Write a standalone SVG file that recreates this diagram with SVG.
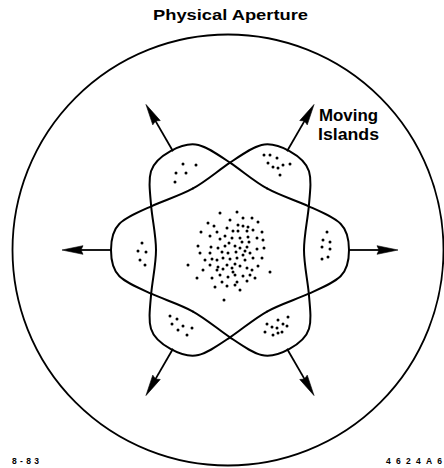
<svg xmlns="http://www.w3.org/2000/svg" xmlns:xlink="http://www.w3.org/1999/xlink" width="444" height="468" viewBox="0 0 444 468">
<style>
.ln{fill:none;stroke:#000;stroke-width:2;stroke-linejoin:round;stroke-linecap:round}
.ap{fill:none;stroke:#000;stroke-width:1.8}
.ar line{stroke:#000;stroke-width:1.8}
.ar polygon{fill:#000;stroke:#000;stroke-width:0.6;stroke-linejoin:round}
.d circle{fill:#000}
.t{font-family:"Liberation Sans",Arial,sans-serif;font-weight:bold;fill:#000}
</style>
<defs>
<path id="seg" class="ln" vector-effect="non-scaling-stroke" d="M37,-64.09 C49.99,-56.59 65.22,-51.84 78.81,-45.5 C107.81,-31.98 119,-28 119,0 C119,28 107.81,31.98 78.81,45.5 C65.22,51.84 49.99,56.59 37,64.09"/>
<g id="arrow-h" class="ar"><line x1="118" y1="0" x2="150" y2="0"/><polygon points="168,0 147,-4.3 149,0 147,4.3"/></g>
<g id="arrow-d" class="ar"><line x1="114" y1="0" x2="150" y2="0"/><polygon points="168,0 147,-4.3 149,0 147,4.3"/></g>
</defs>
<rect width="444" height="468" fill="#fff"/>
<g id="aperture"><circle class="ap" cx="228" cy="250" r="215.5"/></g>
<g id="separatrix" transform="translate(230,250) scale(1,0.96)">
<use xlink:href="#seg" href="#seg"/>
<use xlink:href="#seg" href="#seg" transform="rotate(60)"/>
<use xlink:href="#seg" href="#seg" transform="rotate(120)"/>
<use xlink:href="#seg" href="#seg" transform="rotate(180)"/>
<use xlink:href="#seg" href="#seg" transform="rotate(240)"/>
<use xlink:href="#seg" href="#seg" transform="rotate(300)"/>
</g>
<g id="connectors" transform="translate(230,250)">
<use xlink:href="#arrow-h" href="#arrow-h"/>
<use xlink:href="#arrow-d" href="#arrow-d" transform="rotate(60)"/>
<use xlink:href="#arrow-d" href="#arrow-d" transform="rotate(120)"/>
<use xlink:href="#arrow-h" href="#arrow-h" transform="rotate(180)"/>
<use xlink:href="#arrow-d" href="#arrow-d" transform="rotate(240)"/>
<use xlink:href="#arrow-d" href="#arrow-d" transform="rotate(300)"/>
</g>
<g id="core" class="d">
<circle cx="220" cy="213" r="1.5"/><circle cx="237" cy="212" r="1.5"/><circle cx="230" cy="220" r="1.5"/><circle cx="243" cy="218" r="1.5"/><circle cx="252" cy="218" r="1.5"/><circle cx="258" cy="222" r="1.5"/><circle cx="208" cy="223" r="1.5"/><circle cx="238" cy="225" r="1.5"/><circle cx="243" cy="226" r="1.5"/><circle cx="248" cy="227" r="1.5"/><circle cx="227" cy="228" r="1.5"/><circle cx="233" cy="231" r="1.5"/><circle cx="238" cy="231" r="1.5"/><circle cx="247" cy="231" r="1.5"/><circle cx="253" cy="230" r="1.5"/><circle cx="262" cy="232" r="1.5"/><circle cx="201" cy="232" r="1.5"/><circle cx="210" cy="236" r="1.5"/><circle cx="217" cy="232" r="1.5"/><circle cx="225" cy="236" r="1.5"/><circle cx="220" cy="239" r="1.5"/><circle cx="232" cy="238" r="1.5"/><circle cx="240" cy="238" r="1.5"/><circle cx="248" cy="237" r="1.5"/><circle cx="257" cy="238" r="1.5"/><circle cx="263" cy="240" r="1.5"/><circle cx="242" cy="242" r="1.5"/><circle cx="249" cy="242" r="1.5"/><circle cx="198" cy="246" r="1.5"/><circle cx="211" cy="247" r="1.5"/><circle cx="218" cy="248" r="1.5"/><circle cx="225" cy="246" r="1.5"/><circle cx="235" cy="246" r="1.5"/><circle cx="240" cy="248" r="1.5"/><circle cx="247" cy="247" r="1.5"/><circle cx="257" cy="249" r="1.5"/><circle cx="264" cy="248" r="1.5"/><circle cx="200" cy="253" r="1.5"/><circle cx="210" cy="253" r="1.5"/><circle cx="222" cy="252" r="1.5"/><circle cx="228" cy="253" r="1.5"/><circle cx="236" cy="252" r="1.5"/><circle cx="243" cy="255" r="1.5"/><circle cx="250" cy="253" r="1.5"/><circle cx="205" cy="260" r="1.5"/><circle cx="217" cy="260" r="1.5"/><circle cx="223" cy="258" r="1.5"/><circle cx="230" cy="259" r="1.5"/><circle cx="237" cy="258" r="1.5"/><circle cx="245" cy="260" r="1.5"/><circle cx="253" cy="258" r="1.5"/><circle cx="188" cy="265" r="1.5"/><circle cx="210" cy="265" r="1.5"/><circle cx="218" cy="267" r="1.5"/><circle cx="227" cy="265" r="1.5"/><circle cx="235" cy="264" r="1.5"/><circle cx="240" cy="266" r="1.5"/><circle cx="258" cy="266" r="1.5"/><circle cx="203" cy="270" r="1.5"/><circle cx="217" cy="270" r="1.5"/><circle cx="223" cy="269" r="1.5"/><circle cx="232" cy="268" r="1.5"/><circle cx="247" cy="268" r="1.5"/><circle cx="270" cy="272" r="1.5"/><circle cx="220" cy="275" r="1.5"/><circle cx="228" cy="277" r="1.5"/><circle cx="235" cy="275" r="1.5"/><circle cx="243" cy="276" r="1.5"/><circle cx="250" cy="275" r="1.5"/><circle cx="197" cy="278" r="1.5"/><circle cx="212" cy="278" r="1.5"/><circle cx="255" cy="278" r="1.5"/><circle cx="237" cy="282" r="1.5"/><circle cx="247" cy="281" r="1.5"/><circle cx="215" cy="287" r="1.5"/><circle cx="227" cy="286" r="1.5"/><circle cx="235" cy="285" r="1.5"/><circle cx="240" cy="290" r="1.5"/><circle cx="224" cy="300" r="1.5"/>
<circle cx="214" cy="226" r="1.5"/><circle cx="229" cy="243" r="1.5"/><circle cx="245" cy="251" r="1.5"/><circle cx="212" cy="259" r="1.5"/><circle cx="233" cy="272" r="1.5"/><circle cx="252" cy="270" r="1.5"/><circle cx="222" cy="282" r="1.5"/><circle cx="262" cy="258" r="1.5"/>
</g>
<g id="island-top-left" class="d"><circle cx="183" cy="164" r="1.5"/><circle cx="196" cy="165" r="1.5"/><circle cx="176" cy="173" r="1.5"/><circle cx="186" cy="173" r="1.5"/><circle cx="175" cy="182" r="1.5"/></g>
<g id="island-top-right" class="d"><circle cx="264" cy="155" r="1.5"/><circle cx="270" cy="155" r="1.5"/><circle cx="277" cy="158" r="1.5"/><circle cx="268" cy="163" r="1.5"/><circle cx="273" cy="167" r="1.5"/><circle cx="278" cy="168" r="1.5"/><circle cx="283" cy="165" r="1.5"/><circle cx="290" cy="164" r="1.5"/><circle cx="280" cy="175" r="1.5"/></g>
<g id="island-right" class="d"><circle cx="327" cy="232" r="1.5"/><circle cx="323" cy="240" r="1.5"/><circle cx="330" cy="242" r="1.5"/><circle cx="322" cy="247" r="1.5"/><circle cx="330" cy="249" r="1.5"/><circle cx="328" cy="257" r="1.5"/><circle cx="322" cy="259" r="1.5"/></g>
<g id="island-left" class="d"><circle cx="142" cy="243" r="1.5"/><circle cx="138" cy="251" r="1.5"/><circle cx="146" cy="252" r="1.5"/><circle cx="140" cy="260" r="1.5"/><circle cx="145" cy="265" r="1.5"/></g>
<g id="island-bottom-left" class="d"><circle cx="170" cy="316" r="1.5"/><circle cx="177" cy="319" r="1.5"/><circle cx="172" cy="324" r="1.5"/><circle cx="183" cy="326" r="1.5"/><circle cx="178" cy="330" r="1.5"/><circle cx="192" cy="328" r="1.5"/><circle cx="187" cy="335" r="1.5"/></g>
<g id="island-bottom-right" class="d"><circle cx="288" cy="317" r="1.5"/><circle cx="278" cy="320" r="1.5"/><circle cx="283" cy="324" r="1.5"/><circle cx="287" cy="326" r="1.5"/><circle cx="267" cy="324" r="1.5"/><circle cx="272" cy="327" r="1.5"/><circle cx="277" cy="328" r="1.5"/><circle cx="282" cy="332" r="1.5"/><circle cx="265" cy="332" r="1.5"/><circle cx="273" cy="335" r="1.5"/><circle cx="278" cy="333" r="1.5"/></g>
<g id="labels">
<text class="t" x="153" y="20" font-size="15" textLength="155" lengthAdjust="spacingAndGlyphs">Physical Aperture</text>
<text class="t" x="319" y="121" font-size="16" textLength="59" lengthAdjust="spacingAndGlyphs">Moving</text>
<text class="t" x="318" y="140" font-size="16" textLength="61" lengthAdjust="spacingAndGlyphs">Islands</text>
<text class="t" x="12" y="463.5" font-size="8.5" textLength="27" lengthAdjust="spacing">8-83</text>
<text class="t" x="386" y="463.5" font-size="8.5" textLength="56" lengthAdjust="spacing">4624A6</text>
</g>
</svg>
